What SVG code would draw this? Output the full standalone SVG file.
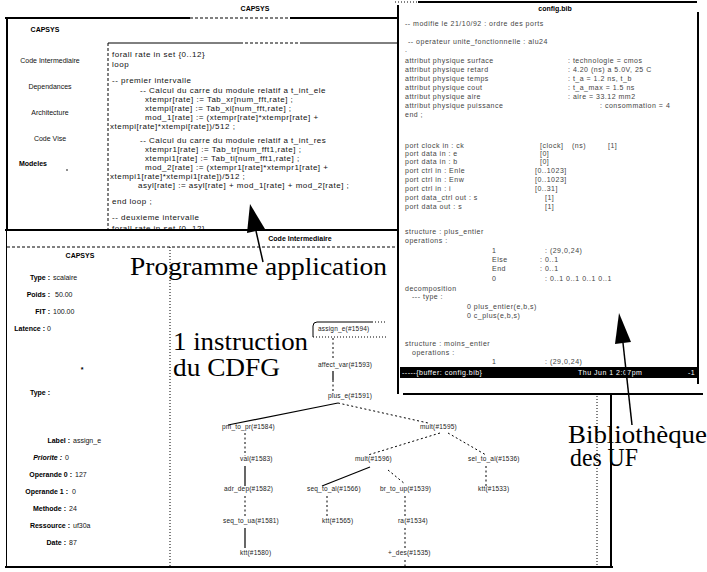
<svg xmlns="http://www.w3.org/2000/svg" width="707" height="572" viewBox="0 0 707 572">
  <style>
    .ui { font-family: "Liberation Sans", Arial, sans-serif; font-size: 7px; fill: #111; }
    .uib { font-family: "Liberation Sans", Arial, sans-serif; font-size: 7px; font-weight: bold; fill: #000; }
    .code { font-family: "Liberation Sans", Arial, sans-serif; font-size: 8px; fill: #111; letter-spacing: 0.5px; }
    .cfg { font-family: "Liberation Sans", Arial, sans-serif; font-size: 7px; fill: #444; letter-spacing: 0.5px; }
    .node { font-family: "Liberation Sans", Arial, sans-serif; font-size: 6.5px; fill: #222; letter-spacing: 0.2px; }
    .big { font-family: "Liberation Serif", "Times New Roman", serif; font-size: 26px; fill: #000; }
    .frame { stroke: #000; stroke-width: 2; fill: none; }
    .thin { stroke: #000; stroke-width: 1; fill: none; }
    .dash { stroke: #000; stroke-width: 1; fill: none; stroke-dasharray: 3 2; }
    .dot { stroke: #000; stroke-width: 1; fill: none; stroke-dasharray: 1 2; }
    .edge { stroke: #000; stroke-width: 1.2; fill: none; }
    .edash { stroke: #000; stroke-width: 1; fill: none; stroke-dasharray: 2 2.5; }
  </style>

  <rect width="707" height="572" fill="#fff"/>

  <!-- Main CAPSYS window: menu and source listing -->
  <g id="capsys-window">
    <text class="uib" x="255" y="11" text-anchor="middle">CAPSYS</text>
    <path class="frame" d="M5 18 H190"/>
    <path class="dash" d="M190 18 H290" stroke-width="1.5"/>
    <path class="frame" d="M290 18 H397"/>
    <path class="frame" d="M7 18 V567"/>
    <text class="uib" x="45" y="32" text-anchor="middle">CAPSYS</text>
    <text class="ui" x="50" y="63" text-anchor="middle">Code Intermediaire</text>
    <text class="ui" x="50" y="89" text-anchor="middle">Dependances</text>
    <text class="ui" x="50" y="115" text-anchor="middle">Architecture</text>
    <text class="ui" x="50" y="141" text-anchor="middle">Code Vise</text>
    <text class="uib" x="33" y="166" text-anchor="middle">Modeles</text>
    <circle cx="67" cy="170" r="0.8" fill="#000"/>
    <!-- listing pane -->
    <path class="thin" d="M108 43 H240" stroke-width="1.5"/>
    <path class="dash" d="M240 43 H300"/>
    <path class="thin" d="M300 43 H397" stroke-width="1.5"/>
    <path class="dash" d="M108 43 V230"/>
    <text class="code" x="112" y="57">forall rate in set {0..12}</text>
    <text class="code" x="112" y="67">loop</text>
    <text class="code" x="112" y="83">-- premier intervalle</text>
    <text class="code" x="140" y="93">-- Calcul du carre du module relatif a t_int_ele</text>
    <text class="code" x="145" y="102">xtempr[rate] := Tab_xr[num_fft,rate] ;</text>
    <text class="code" x="145" y="111">xtempi[rate] := Tab_xi[num_fft,rate] ;</text>
    <text class="code" x="145" y="120">mod_1[rate] := (xtempr[rate]*xtempr[rate] +</text>
    <text class="code" x="110" y="129">xtempi[rate]*xtempi[rate])/512 ;</text>
    <text class="code" x="140" y="143">-- Calcul du carre du module relatif a t_int_res</text>
    <text class="code" x="145" y="152">xtempr1[rate] := Tab_tr[num_fft1,rate] ;</text>
    <text class="code" x="145" y="161">xtempi1[rate] := Tab_ti[num_fft1,rate] ;</text>
    <text class="code" x="145" y="170">mod_2[rate] := (xtempr1[rate]*xtempr1[rate] +</text>
    <text class="code" x="110" y="179">xtempi1[rate]*xtempi1[rate])/512 ;</text>
    <text class="code" x="138" y="188">asyl[rate] := asyl[rate] + mod_1[rate] + mod_2[rate] ;</text>
    <text class="code" x="112" y="204">end loop ;</text>
    <text class="code" x="112" y="220">-- deuxieme intervalle</text>
    <text class="code" x="112" y="231">forall rate in set {0..12}</text>
  </g>

  <!-- Intermediate code window: attribute panel and CDFG -->
  <g id="cdfg-window">
    <rect x="7" y="230" width="392" height="337" fill="#fff"/>
    <path class="frame" d="M5 230 H399"/>
    <text class="uib" x="300" y="241" text-anchor="middle">Code Intermediaire</text>
    <path class="dash" d="M7 247 H399"/>
    <path class="dot" d="M170 247 V567"/>
    <path class="frame" d="M5 567 H613"/>
    <path class="frame" d="M611 394 V568"/>
    <path class="dot" d="M597 396 V567"/>
  </g>

  <g id="attribute-panel">
    <text class="uib" x="80" y="258" text-anchor="middle">CAPSYS</text>
    <text class="uib" x="50" y="280" text-anchor="end">Type :</text>
    <text class="ui" x="53" y="280">scalaire</text>
    <text class="uib" x="50" y="297" text-anchor="end">Poids :</text>
    <text class="ui" x="55" y="297">50.00</text>
    <text class="uib" x="50" y="314" text-anchor="end">FIT :</text>
    <text class="ui" x="53" y="314">100.00</text>
    <text class="uib" x="45" y="331" text-anchor="end">Latence :</text>
    <text class="ui" x="47" y="331">0</text>
    <text class="uib" x="82" y="372" text-anchor="middle">*</text>
    <text class="uib" x="50" y="395" text-anchor="end">Type :</text>
    <text class="uib" x="70" y="443" text-anchor="end">Label :</text>
    <text class="ui" x="73" y="443">assign_e</text>
    <text class="uib" x="62" y="460" text-anchor="end" font-style="italic">Priorite :</text>
    <text class="ui" x="65" y="460">0</text>
    <text class="uib" x="72" y="477" text-anchor="end">Operande 0 :</text>
    <text class="ui" x="75" y="477">127</text>
    <text class="uib" x="68" y="494" text-anchor="end">Operande 1 :</text>
    <text class="ui" x="72" y="494">0</text>
    <text class="uib" x="66" y="511" text-anchor="end">Methode :</text>
    <text class="ui" x="69" y="511">24</text>
    <text class="uib" x="70" y="528" text-anchor="end">Ressource :</text>
    <text class="ui" x="73" y="528">uf30a</text>
    <text class="uib" x="66" y="545" text-anchor="end">Date :</text>
    <text class="ui" x="69" y="545">87</text>
  </g>

  <!-- CDFG connectors -->
  <g id="cdfg-edges">
    <path class="edash" d="M333 338 V360"/>
    <path class="edge" d="M333 371 V380"/>
    <path class="edash" d="M333 380 V394"/>
    <path class="edge" d="M338 403 L228 425"/>
    <path class="edash" d="M338 403 L428 423"/>
    <path class="edash" d="M245 433 V456"/>
    <path class="edge" d="M245 466 V486"/>
    <path class="edash" d="M245 496 V518"/>
    <path class="edge" d="M245 528 V548"/>
    <path class="edash" d="M440 433 L368 455"/>
    <path class="edash" d="M448 433 L486 455"/>
    <path class="edge" d="M370 467 L322 486"/>
    <path class="edash" d="M388 470 L405 484"/>
    <path class="edash" d="M327 496 V517"/>
    <path class="edash" d="M405 496 V517"/>
    <path class="edash" d="M405 528 V548"/>
    <path class="edash" d="M405 560 V567"/>
    <path class="edash" d="M486 466 V486"/>
  </g>

  <g id="node-assign">
    <path class="thin" d="M313 337 V326 Q313 322 317 322 H372"/>
    <path class="dot" d="M313 337 H388 M372 322 H386"/>
    <text class="node" x="318" y="331">assign_e(#1594)</text>
  </g>
  <g id="node-affect"><text class="node" x="318" y="367">affect_var(#1593)</text></g>
  <g id="node-plus"><text class="node" x="328" y="398">plus_e(#1591)</text></g>
  <g id="node-pm-to-pr"><text class="node" x="222" y="429">pm_to_pr(#1584)</text></g>
  <g id="node-mult-a"><text class="node" x="420" y="429">mult(#1595)</text></g>
  <g id="node-val"><text class="node" x="240" y="461">val(#1583)</text></g>
  <g id="node-mult-b"><text class="node" x="355" y="461">mult(#1596)</text></g>
  <g id="node-sel"><text class="node" x="468" y="461">sel_to_al(#1536)</text></g>
  <g id="node-adr-dep"><text class="node" x="224" y="491">adr_dep(#1582)</text></g>
  <g id="node-seq-al"><text class="node" x="307" y="491">seq_to_al(#1566)</text></g>
  <g id="node-br-up"><text class="node" x="380" y="491">br_to_up(#1539)</text></g>
  <g id="node-ktt-c"><text class="node" x="478" y="491">ktt(#1533)</text></g>
  <g id="node-seq-ua"><text class="node" x="223" y="523">seq_to_ua(#1581)</text></g>
  <g id="node-ktt-b"><text class="node" x="322" y="523">ktt(#1565)</text></g>
  <g id="node-ra"><text class="node" x="398" y="523">ra(#1534)</text></g>
  <g id="node-ktt-a"><text class="node" x="240" y="555">ktt(#1580)</text></g>
  <g id="node-des"><text class="node" x="388" y="555">+_des(#1535)</text></g>

  <!-- Function-unit library editor window -->
  <g id="library-window">
    <rect x="397" y="2" width="302" height="392" fill="#fff"/>
    <path class="dot" d="M395 2 H418"/>
    <path class="frame" d="M418 2 H697"/>
    <path class="frame" d="M398 5 V394"/>
    <path class="frame" d="M698 12 V384"/>
    <path class="frame" d="M403 394 H703"/>
    <text class="uib" x="555" y="11" text-anchor="middle">config.bib</text>
    <text class="cfg" x="405" y="26">-- modifie le 21/10/92 : ordre des ports</text>
    <text class="cfg" x="408" y="44">-- operateur unite_fonctionnelle : alu24</text>
    <text class="cfg" x="405" y="52">.</text>
    <text class="cfg" x="405" y="63">attribut physique surface</text>
    <text class="cfg" x="568" y="63">: technologie = cmos</text>
    <text class="cfg" x="405" y="72">attribut physique retard</text>
    <text class="cfg" x="568" y="72">: 4.20 (ns) a 5.0V, 25 C</text>
    <text class="cfg" x="405" y="81">attribut physique temps</text>
    <text class="cfg" x="568" y="81">: t_a = 1.2 ns, t_b</text>
    <text class="cfg" x="405" y="90">attribut physique cout</text>
    <text class="cfg" x="568" y="90">: t_a_max = 1.5 ns</text>
    <text class="cfg" x="405" y="99">attribut physique aire</text>
    <text class="cfg" x="568" y="99">: aire = 33.12 mm2</text>
    <text class="cfg" x="405" y="108">attribut physique puissance</text>
    <text class="cfg" x="600" y="108">: consommation = 4</text>
    <text class="cfg" x="405" y="117">end ;</text>

    <text class="cfg" x="405" y="148">port clock in : ck</text>
    <text class="cfg" x="540" y="148">[clock]</text>
    <text class="cfg" x="572" y="148">(ns)</text>
    <text class="cfg" x="608" y="148">[1]</text>
    <text class="cfg" x="405" y="156">port data in : e</text>
    <text class="cfg" x="540" y="156">[0]</text>
    <text class="cfg" x="405" y="164">port data in : b</text>
    <text class="cfg" x="540" y="164">[0]</text>
    <text class="cfg" x="405" y="173">port ctrl in : Enle</text>
    <text class="cfg" x="535" y="173">[0..1023]</text>
    <text class="cfg" x="405" y="182">port ctrl in : Enw</text>
    <text class="cfg" x="535" y="182">[0..1023]</text>
    <text class="cfg" x="405" y="191">port ctrl in : i</text>
    <text class="cfg" x="535" y="191">[0..31]</text>
    <text class="cfg" x="405" y="200">port data_ctrl out : s</text>
    <text class="cfg" x="545" y="200">[1]</text>
    <text class="cfg" x="405" y="209">port data out : s</text>
    <text class="cfg" x="545" y="209">[1]</text>

    <text class="cfg" x="405" y="234">structure : plus_entier</text>
    <text class="cfg" x="405" y="243">operations :</text>
    <text class="cfg" x="492" y="253">1</text>
    <text class="cfg" x="545" y="253">: (29,0,24)</text>
    <text class="cfg" x="492" y="262">Else</text>
    <text class="cfg" x="540" y="262">: 0..1</text>
    <text class="cfg" x="492" y="271">End</text>
    <text class="cfg" x="540" y="271">: 0..1</text>
    <text class="cfg" x="492" y="281">0</text>
    <text class="cfg" x="545" y="281">: 0..1   0..1    0..1    0..1</text>
    <text class="cfg" x="405" y="291">decomposition</text>
    <text class="cfg" x="412" y="299">--- type :</text>
    <text class="cfg" x="467" y="309">0 plus_entier(e,b,s)</text>
    <text class="cfg" x="467" y="318">0 c_plus(e,b,s)</text>

    <text class="cfg" x="405" y="346">structure : moins_entier</text>
    <text class="cfg" x="412" y="355">operations :</text>
    <text class="cfg" x="492" y="364">1</text>
    <text class="cfg" x="545" y="364">: (29,0,24)</text>

    <rect x="400" y="367" width="297" height="11" fill="#000"/>
    <text class="cfg" x="402" y="375" style="fill:#fff">-----{buffer: config.bib}</text>
    <text class="cfg" x="578" y="375" style="fill:#fff">Thu Jun  1 2:07pm</text>
    <text class="cfg" x="688" y="375" style="fill:#fff">-1</text>
  </g>

  <!-- Annotations -->
  <g id="label-programme">
    <text class="big" x="130" y="275" textLength="257" lengthAdjust="spacingAndGlyphs">Programme application</text>
  </g>
  <g id="label-instruction">
    <text class="big" x="173" y="350" textLength="135" lengthAdjust="spacingAndGlyphs">1 instruction</text>
    <text class="big" x="173" y="376" textLength="107" lengthAdjust="spacingAndGlyphs">du CDFG</text>
  </g>
  <g id="label-bibliotheque">
    <text class="big" x="568" y="443" textLength="139" lengthAdjust="spacingAndGlyphs">Bibliothèque</text>
    <text class="big" x="570" y="466" textLength="68" lengthAdjust="spacingAndGlyphs">des UF</text>
  </g>
  <g id="annotation-arrows">
    <path d="M263 262 L256 231" stroke="#000" stroke-width="1.5" fill="none"/>
    <path d="M250 204 L265 229 L247 233 Z" fill="#000"/>
    <path d="M632 425 L623 343" stroke="#000" stroke-width="1.5" fill="none"/>
    <path d="M619 313 L631 342 L615 344 Z" fill="#000"/>
  </g>
</svg>
